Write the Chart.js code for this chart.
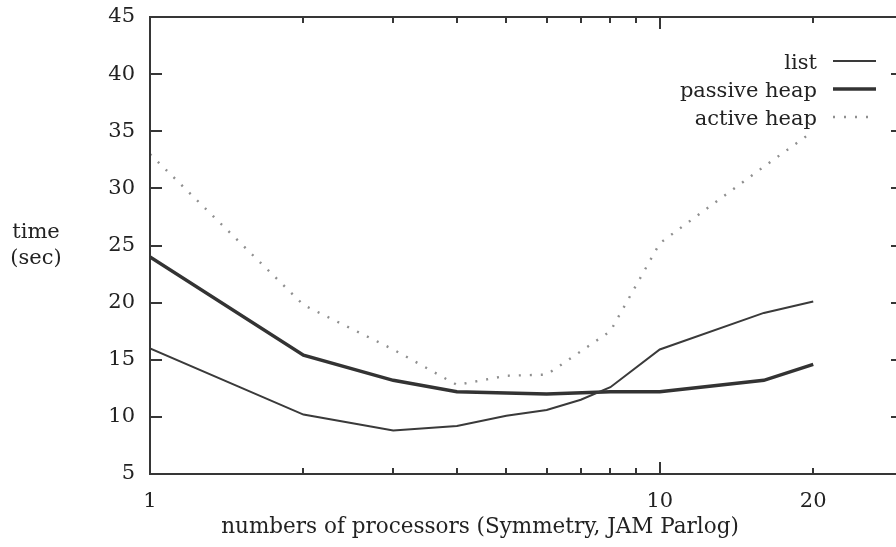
<!DOCTYPE html>
<html>
<head>
<meta charset="utf-8">
<script src="https://cdn.jsdelivr.net/npm/chart.js@4/dist/chart.umd.min.js"></script>
<style>
  html, body { margin: 0; padding: 0; background: #fff; overflow: hidden; }
</style>
</head>
<body>
<canvas id="canvas-grafico-tempo" width="906" height="547"></canvas>
<script>
const seriesNames = ["list", "passive heap", "active heap"];

const listX = [1, 2, 3, 4, 5, 6, 7, 8, 10, 16, 20];
const listY = [16, 10.2, 8.8, 9.2, 10.1, 10.6, 11.5, 12.6, 15.9, 19.1, 20.1];

const passiveX = [1, 2, 3, 4, 5, 6, 8, 10, 16, 20];
const passiveY = [24, 15.4, 13.2, 12.2, 12.1, 12.0, 12.2, 12.2, 13.2, 14.6];

const activeX = [1, 2, 3, 4, 5, 6, 8, 10, 16, 20];
const activeY = [33, 19.8, 15.9, 12.8, 13.6, 13.7, 17.5, 25.2, 31.9, 35];

const xTickMarks = [1, 2, 3, 4, 5, 6, 7, 8, 9, 10, 20, 30];
const xMajor = [1, 10];
const xLabels = [1, 10, 20];
const yTicks = [5, 10, 15, 20, 25, 30, 35, 40, 45];

const FONT = "DejaVu Serif";
const INK = "#363636";

function pts(xs, ys) {
  return xs.map((v, i) => ({ x: v, y: ys[i] }));
}

function noPad(s) {
  s.paddingTop = 0; s.paddingBottom = 0;
  s.paddingLeft = 0; s.paddingRight = 0;
}

const decor = {
  id: "decor",
  afterDraw(chart) {
    const { ctx, chartArea: a, scales: { x, y } } = chart;
    ctx.save();
    // frame
    ctx.strokeStyle = INK;
    ctx.lineWidth = 2;
    ctx.strokeRect(a.left, a.top, a.right - a.left, a.bottom - a.top);
    // inward tick marks
    ctx.beginPath();
    yTicks.forEach(v => {
      const py = Math.round(y.getPixelForValue(v));
      ctx.moveTo(a.left, py); ctx.lineTo(a.left + 12, py);
      ctx.moveTo(a.right, py); ctx.lineTo(a.right - 12, py);
    });
    xTickMarks.forEach(v => {
      const px = Math.round(x.getPixelForValue(v));
      const len = xMajor.includes(v) ? 12 : 6;
      ctx.moveTo(px, a.bottom); ctx.lineTo(px, a.bottom - len);
      ctx.moveTo(px, a.top); ctx.lineTo(px, a.top + len);
    });
    ctx.stroke();

    // legend, text right of the plot, sample line after it
    ctx.font = "21px '" + FONT + "'";
    ctx.fillStyle = "#222";
    ctx.textAlign = "right";
    ctx.textBaseline = "alphabetic";
    chart.data.datasets.forEach((ds, i) => {
      const ly = 61 + 28 * i;
      ctx.fillText(ds.label, 817, ly + 8);
      ctx.save();
      ctx.strokeStyle = ds.borderColor;
      ctx.lineWidth = ds.borderWidth;
      ctx.setLineDash(ds.borderDash || []);
      ctx.beginPath();
      ctx.moveTo(833, ly); ctx.lineTo(876, ly);
      ctx.stroke();
      ctx.restore();
    });

    // axis titles
    ctx.textAlign = "center";
    ctx.fillText("time", 36, 238);
    ctx.fillText("(sec)", 36, 264);
    ctx.font = "21.5px '" + FONT + "'";
    ctx.fillText("numbers of processors (Symmetry, JAM Parlog)", 480, 533);
    ctx.restore();
  }
};

new Chart(document.getElementById("canvas-grafico-tempo"), {
  type: "line",
  plugins: [decor],
  data: {
    datasets: [
      {
        label: seriesNames[0],
        data: pts(listX, listY),
        borderColor: "#3a3a3a",
        borderWidth: 2,
        pointRadius: 0,
        tension: 0,
      },
      {
        label: seriesNames[1],
        data: pts(passiveX, passiveY),
        borderColor: "#333333",
        borderWidth: 3.5,
        pointRadius: 0,
        tension: 0,
      },
      {
        label: seriesNames[2],
        data: pts(activeX, activeY),
        borderColor: "#8f8f8f",
        borderWidth: 2.4,
        borderDash: [2, 9],
        pointRadius: 0,
        tension: 0,
      },
    ],
  },
  options: {
    responsive: false,
    animation: false,
    devicePixelRatio: 1,
    layout: { padding: { top: 17, right: 3, left: 0, bottom: 0 }, autoPadding: false },
    plugins: {
      legend: { display: false },
      tooltip: { enabled: false },
    },
    scales: {
      x: {
        type: "logarithmic",
        min: 1,
        max: 30,
        afterBuildTicks: (s) => { s.ticks = xTickMarks.map(v => ({ value: v })); },
        afterFit: (s) => { s.height = 73; noPad(s); },
        grid: { display: false, drawTicks: false },
        border: { display: false },
        ticks: {
          autoSkip: false,
          maxRotation: 0,
          padding: 15,
          color: "#222",
          font: { family: FONT, size: 21 },
          callback: (v) => (xLabels.includes(v) ? String(v) : ""),
        },
      },
      y: {
        min: 5,
        max: 45,
        afterBuildTicks: (s) => { s.ticks = yTicks.map(v => ({ value: v })); },
        afterFit: (s) => { s.width = 150; noPad(s); },
        grid: { display: false, drawTicks: false },
        border: { display: false },
        ticks: {
          padding: 15,
          color: "#222",
          font: { family: FONT, size: 21 },
        },
      },
    },
  },
});
</script>
</body>
</html>
